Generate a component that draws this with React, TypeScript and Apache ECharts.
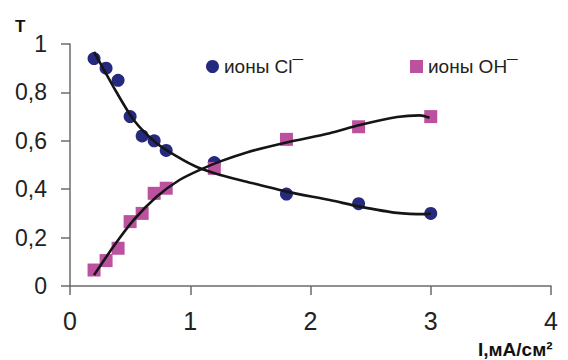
import React, { useEffect, useRef } from "react";
import * as echarts from "echarts";

const clX = [0.2, 0.3, 0.4, 0.5, 0.6, 0.7, 0.8, 1.2, 1.8, 2.4, 3.0];
const clY = [0.94, 0.9, 0.85, 0.7, 0.62, 0.6, 0.56, 0.51, 0.38, 0.34, 0.3];
const ohX = [0.2, 0.3, 0.4, 0.5, 0.6, 0.7, 0.8, 1.2, 1.8, 2.4, 3.0];
const ohY = [0.066, 0.105, 0.156, 0.266, 0.3, 0.383, 0.404, 0.486, 0.606, 0.658, 0.7];

const clFitX = [0.2, 0.36, 0.53, 0.72, 0.91, 1.05, 1.25, 1.47, 1.8, 2.16, 2.41, 2.72, 2.96, 3.0];
const clFitY = [0.967, 0.824, 0.686, 0.59, 0.529, 0.493, 0.459, 0.431, 0.39, 0.355, 0.328, 0.302, 0.297, 0.3];
const ohFitX = [0.2, 0.36, 0.53, 0.72, 0.91, 1.08, 1.25, 1.47, 1.8, 2.16, 2.41, 2.72, 2.91, 2.99];
const ohFitY = [0.045, 0.162, 0.273, 0.369, 0.438, 0.48, 0.515, 0.552, 0.593, 0.631, 0.665, 0.698, 0.705, 0.695];

const xTicks = [0, 1, 2, 3, 4];
const yTicks = [0, 0.2, 0.4, 0.6, 0.8, 1];

const clName = "ионы Cl¯";
const ohName = "ионы OH¯";
const yTitle = "T";
const xTitle = "I,мА/см²";

const zip = (xs: number[], ys: number[]) => xs.map((x, i) => [x, ys[i]]);

export default function App() {
  const ref = useRef<HTMLDivElement>(null);
  useEffect(() => {
    document.body.style.margin = "0";
    if (!ref.current) return;
    const chart = echarts.init(ref.current, null, { renderer: "svg" });
    const font = "Liberation Sans, Arial, sans-serif";
    const axisColor = "#6b6b6b";
    chart.setOption({
      animation: false,
      backgroundColor: "#ffffff",
      textStyle: { fontFamily: font },
      grid: { left: 70, right: 17, top: 44, bottom: 74, containLabel: false },
      xAxis: {
        type: "value",
        min: xTicks[0],
        max: xTicks[xTicks.length - 1],
        interval: 1,
        axisLine: { show: true, lineStyle: { color: axisColor, width: 1.5 } },
        axisTick: { show: true, inside: false, length: 9, lineStyle: { color: axisColor, width: 1.5 } },
        axisLabel: { fontSize: 25, color: "#222", margin: 22, fontFamily: font },
        splitLine: { show: false },
      },
      yAxis: {
        type: "value",
        min: yTicks[0],
        max: yTicks[yTicks.length - 1],
        interval: 0.2,
        axisLine: { show: true, lineStyle: { color: axisColor, width: 1.5 } },
        axisTick: { show: true, inside: false, length: 9, lineStyle: { color: axisColor, width: 1.5 } },
        axisLabel: {
          fontSize: 23,
          color: "#222",
          margin: 23,
          fontFamily: font,
          formatter: (v: number) => String(Math.round(v * 10) / 10).replace(".", ","),
        },
        splitLine: { show: false },
      },
      legend: [
        {
          data: [{ name: clName, icon: "circle" }],
          left: 206,
          top: 57,
          padding: 0,
          itemWidth: 13,
          itemHeight: 13,
          textStyle: { fontSize: 19, color: "#222", fontFamily: font },
        },
        {
          data: [{ name: ohName, icon: "rect" }],
          left: 410,
          top: 57,
          padding: 0,
          itemWidth: 13,
          itemHeight: 13,
          textStyle: { fontSize: 19, color: "#222", fontFamily: font },
        },
      ],
      graphic: [
        {
          type: "text",
          left: 15,
          top: 18,
          style: { text: yTitle, font: `bold 17px ${font}`, fill: "#111" },
        },
        {
          type: "text",
          x: 478,
          y: 340,
          style: { text: xTitle, font: `bold 19px ${font}`, fill: "#111", textVerticalAlign: "top" },
        },
      ],
      series: [
        {
          name: clName,
          type: "scatter",
          symbol: "circle",
          symbolSize: 13,
          itemStyle: { color: "#262a7e", opacity: 1 },
          data: zip(clX, clY),
          z: 2,
        },
        {
          name: ohName,
          type: "scatter",
          symbol: "rect",
          symbolSize: 13,
          itemStyle: { color: "#bb519f", opacity: 1 },
          data: zip(ohX, ohY),
          z: 3,
        },
        {
          name: "fitCl",
          type: "line",
          smooth: 0.25,
          showSymbol: false,
          symbol: "none",
          lineStyle: { color: "#151515", width: 2.6 },
          data: zip(clFitX, clFitY),
          z: 4,
        },
        {
          name: "fitOH",
          type: "line",
          smooth: 0.25,
          showSymbol: false,
          symbol: "none",
          lineStyle: { color: "#151515", width: 2.6 },
          data: zip(ohFitX, ohFitY),
          z: 4,
        },
      ],
    });
    return () => chart.dispose();
  }, []);
  return <div ref={ref} style={{ width: 568, height: 360 }} />;
}
